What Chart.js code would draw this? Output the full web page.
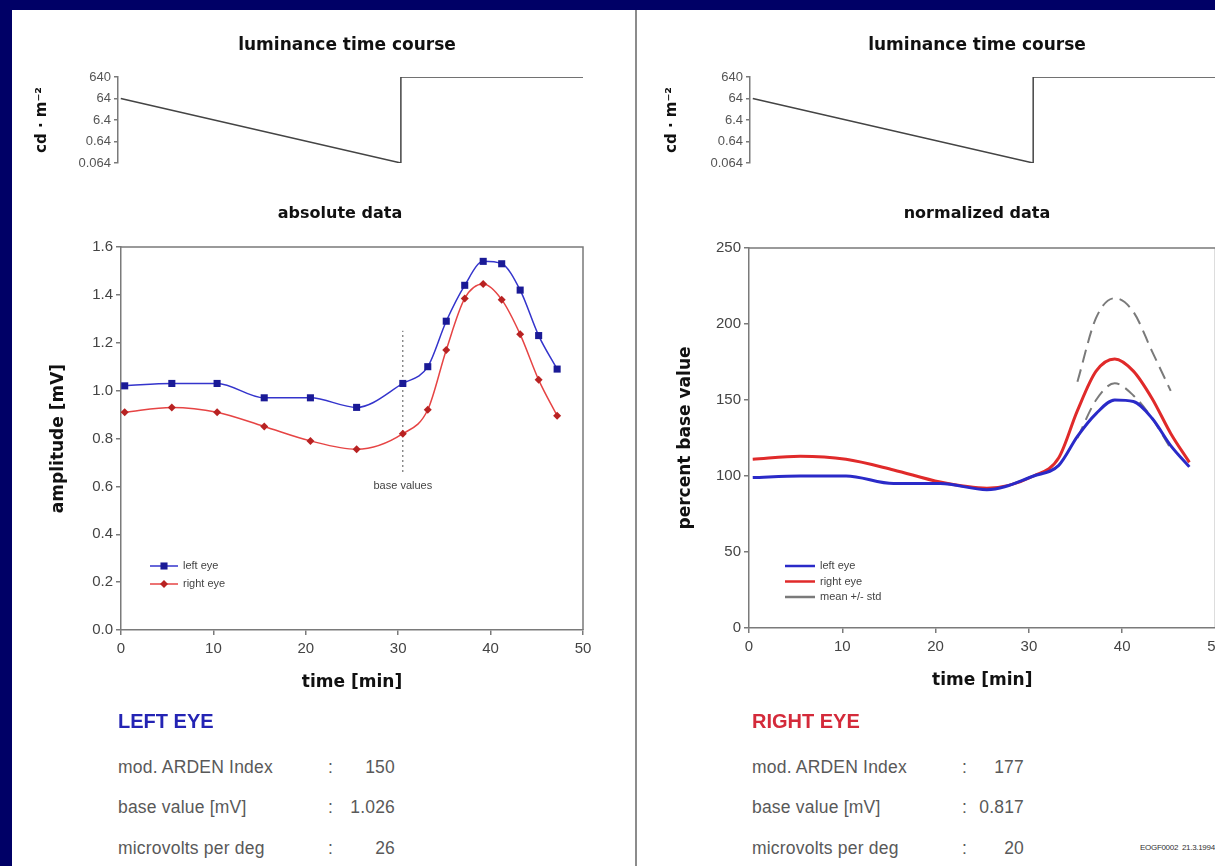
<!DOCTYPE html>
<html>
<head>
<meta charset="utf-8">
<title>EOG light rise</title>
<script src="https://cdn.jsdelivr.net/npm/chart.js@4.4.1/dist/chart.umd.min.js"></script>
<style>
  html, body { margin:0; padding:0; width:1215px; height:866px; overflow:hidden; background:#000066; }
  #sheet { position:absolute; left:12px; top:10px; width:1203px; height:856px; background:#fff; }
  #divider { position:absolute; left:635px; top:10px; width:2px; height:856px; background:#8c8c8c; z-index:3; }
  .wrap { position:absolute; }
  .wrap canvas { display:block; }
  .eye { position:absolute; top:700px; font-family:"Liberation Sans", Arial, sans-serif; color:#595959; font-size:17.5px; letter-spacing:0.2px; }
  .eye .head { position:absolute; left:0; top:9px; line-height:24px; font-weight:bold; font-size:20px; letter-spacing:0; white-space:nowrap; }
  .eye .row { position:absolute; left:0; height:20px; line-height:20px; width:300px; white-space:nowrap; }
  .eye .row .c { position:absolute; left:210px; }
  .eye .row .v { position:absolute; left:200px; text-align:right; }
  #stamp { position:absolute; left:1140px; top:843px; font:8px "Liberation Sans", Arial, sans-serif; letter-spacing:-0.3px; color:#333; white-space:nowrap; z-index:4; }
</style>
</head>
<body>
<div id="sheet"></div>
<div class="wrap" style="left:12px;top:10px"><canvas id="lumLeft" width="670" height="175"></canvas></div>
<div class="wrap" style="left:637px;top:10px"><canvas id="lumRight" width="680" height="175"></canvas></div>
<div class="wrap" style="left:12px;top:190px"><canvas id="absChart" width="656" height="520"></canvas></div>
<div class="wrap" style="left:637px;top:190px"><canvas id="normChart" width="680" height="520"></canvas></div>
<div id="divider"></div>

<div class="eye" style="left:118px">
  <div class="head" style="color:#2424b4">LEFT EYE</div>
  <div class="row" style="top:57px"><span>mod. ARDEN Index</span><span class="c">:</span><span class="v" style="width:77px">150</span></div>
  <div class="row" style="top:97px"><span>base value [mV]</span><span class="c">:</span><span class="v" style="width:77px">1.026</span></div>
  <div class="row" style="top:138px"><span>microvolts per deg</span><span class="c">:</span><span class="v" style="width:77px">26</span></div>
</div>
<div class="eye" style="left:752px">
  <div class="head" style="color:#d42a3a">RIGHT EYE</div>
  <div class="row" style="top:57px"><span>mod. ARDEN Index</span><span class="c">:</span><span class="v" style="width:72px">177</span></div>
  <div class="row" style="top:97px"><span>base value [mV]</span><span class="c">:</span><span class="v" style="width:72px">0.817</span></div>
  <div class="row" style="top:138px"><span>microvolts per deg</span><span class="c">:</span><span class="v" style="width:72px">20</span></div>
</div>
<div id="stamp">EOGF0002&nbsp;&nbsp;21.3.1994</div>

<script>
// recording times (min)
const times = [0.4, 5.5, 10.4, 15.5, 20.5, 25.5, 30.5, 33.2, 35.2, 37.2, 39.2, 41.2, 43.2, 45.2, 47.2];
// absolute amplitudes (mV)
const leftEyeMv = [1.02, 1.03, 1.03, 0.97, 0.97, 0.93, 1.03, 1.10, 1.29, 1.44, 1.54, 1.53, 1.42, 1.23, 1.09];
const rightEyeMv = [0.91, 0.93, 0.91, 0.85, 0.79, 0.755, 0.82, 0.92, 1.17, 1.385, 1.445, 1.38, 1.235, 1.045, 0.895];
// normalized (% of base value)
const leftEyePct = [99, 100, 100, 95, 95, 91, 100, 107, 126, 141, 150, 149, 138, 120, 106];
const rightEyePct = [111, 113, 111, 104, 96, 92, 100, 112, 143, 169, 177, 169, 151, 128, 109];
// normal range
const stdTimes = [35.2, 37.2, 39.2, 41.2, 43.2, 45.2];
const meanPlusStd = [162, 204, 217, 208, 182, 156];
const meanMinusStd = [125, 150, 161, 153, 138, 118];
// luminance protocol (cd/m2)
const lumTimes = [0, 30.3, 30.3, 50];
const lumValues = [64, 0.064, 640, 640];
const lumTicks = [0.064, 0.64, 6.4, 64, 640];
// base value marker
const baseTime = 30.5;
const baseSpan = [0.66, 1.25];
const baseLabelAt = 0.6;

const pts = (xs, ys) => xs.map((x, i) => ({ x: x, y: ys[i] }));

const AXIS = '#7a7a7a';
const SANS = '"Liberation Sans", Arial, sans-serif';
const BOLD_FAMILY = '"DejaVu Sans", Verdana, sans-serif';
const AXIS_TITLE = { family: BOLD_FAMILY, size: 17, weight: 'bold' };

// top + right border of the plot box
const framePlugin = {
  id: 'frame',
  afterDraw(chart, args, opts) {
    if (!opts.show) return;
    const a = chart.chartArea, ctx = chart.ctx;
    ctx.save();
    ctx.strokeStyle = AXIS;
    ctx.lineWidth = 1.5;
    ctx.beginPath();
    ctx.moveTo(a.left, a.top);
    ctx.lineTo(a.right, a.top);
    ctx.lineTo(a.right, a.bottom);
    ctx.stroke();
    ctx.restore();
  }
};

// small legend in the lower left corner of the plot
const cornerLegend = {
  id: 'cornerLegend',
  afterDatasetsDraw(chart, args, opts) {
    if (!opts.rowH) return;
    const a = chart.chartArea, ctx = chart.ctx;
    const items = chart.data.datasets.filter(d => d.legendText);
    ctx.save();
    items.forEach((d, i) => {
      const y = a.bottom - opts.fromBottom + i * opts.rowH;
      const x0 = a.left + opts.fromLeft, x1 = x0 + opts.lineLen, xm = (x0 + x1) / 2;
      ctx.setLineDash([]);
      ctx.strokeStyle = d.borderColor;
      ctx.lineWidth = opts.lineWidth || d.borderWidth;
      ctx.beginPath(); ctx.moveTo(x0, y); ctx.lineTo(x1, y); ctx.stroke();
      if (d.pointRadius > 0) {
        const r = d.pointRadius;
        ctx.fillStyle = d.pointBackgroundColor;
        ctx.beginPath();
        if (d.pointStyle === 'rect') {
          const s = r * Math.SQRT1_2;
          ctx.rect(xm - s, y - s, 2 * s, 2 * s);
        } else {
          ctx.moveTo(xm, y - r); ctx.lineTo(xm + r, y); ctx.lineTo(xm, y + r); ctx.lineTo(xm - r, y); ctx.closePath();
        }
        ctx.fill();
      }
      ctx.fillStyle = '#444';
      ctx.font = '11px ' + SANS;
      ctx.textBaseline = 'middle';
      ctx.textAlign = 'left';
      ctx.fillText(d.legendText, x1 + 5, y);
    });
    ctx.restore();
  }
};

// "base values" caption under the dotted marker
const baseLabel = {
  id: 'baseLabel',
  afterDatasetsDraw(chart, args, opts) {
    if (!opts.text) return;
    const ctx = chart.ctx;
    ctx.save();
    ctx.fillStyle = '#444';
    ctx.font = '11px ' + SANS;
    ctx.textAlign = 'center';
    ctx.textBaseline = 'middle';
    ctx.fillText(opts.text, chart.scales.x.getPixelForValue(opts.x), chart.scales.y.getPixelForValue(opts.y));
    ctx.restore();
  }
};

// empty axis on the right, only reserves room so the title stays centred on the canvas
function spacer(width) {
  return {
    type: 'linear', position: 'right', display: true,
    grid: { display: false }, border: { display: false }, ticks: { display: false },
    afterFit: s => { s.width = width; }
  };
}

function timeAxis() {
  return {
    type: 'linear', min: 0, max: 50,
    grid: { display: true, drawOnChartArea: false, color: AXIS, lineWidth: 1.5, tickLength: 5 },
    border: { display: true, color: AXIS, width: 1.5 },
    ticks: { stepSize: 10, color: '#444', font: { family: SANS, size: 15 }, padding: 5, maxRotation: 0 },
    title: { display: true, text: 'time [min]', color: '#111', font: AXIS_TITLE, padding: { top: 0, bottom: 12 } },
    afterFit: s => { s.height = 75; }
  };
}

function valueAxis(min, max, step, digits, width, label, titlePad) {
  return {
    type: 'linear', min: min, max: max,
    grid: { display: true, drawOnChartArea: false, color: AXIS, lineWidth: 1.5, tickLength: 5 },
    border: { display: true, color: AXIS, width: 1.5 },
    ticks: { stepSize: step, color: '#444', font: { family: SANS, size: 15 }, padding: 3,
             callback: v => v.toFixed(digits) },
    title: { display: true, text: label, color: '#111', font: AXIS_TITLE, padding: { top: titlePad, bottom: 0 } },
    afterFit: s => { s.width = width; }
  };
}

function lumChart(id, axisWidth, rightWidth, titlePad) {
  return new Chart(document.getElementById(id), {
    type: 'line',
    data: {
      datasets: [{
        data: pts(lumTimes, lumValues),
        borderColor: '#444', borderWidth: 1.5, pointRadius: 0, tension: 0
      }]
    },
    options: {
      responsive: false, animation: false, devicePixelRatio: 1,
      layout: { padding: { left: 0, right: 0, top: 0, bottom: 22 } },
      plugins: {
        legend: { display: false }, tooltip: { enabled: false },
        title: { display: true, text: 'luminance time course', color: '#111',
                 font: { family: BOLD_FAMILY, size: 17, weight: 'bold' },
                 padding: { top: 25, bottom: 21.6 } }
      },
      scales: {
        x: { type: 'linear', min: -0.3, max: 50, display: false },
        y: {
          type: 'logarithmic', min: 0.064, max: 640,
          afterBuildTicks: s => { s.ticks = lumTicks.map(v => ({ value: v })); },
          grid: { display: true, drawOnChartArea: false, color: AXIS, lineWidth: 1.5, tickLength: 4 },
          border: { display: true, color: AXIS, width: 1.5 },
          ticks: { autoSkip: false, color: '#555', font: { family: SANS, size: 13 }, padding: 3,
                   callback: v => String(v) },
          title: { display: true, text: 'cd · m⁻²', color: '#111', font: { family: BOLD_FAMILY, size: 15, weight: 'bold' },
                   padding: { top: titlePad, bottom: 0 } },
          afterFit: s => { s.width = axisWidth; }
        },
        pad: spacer(rightWidth)
      }
    }
  });
}

lumChart('lumLeft', 106, 99, 21);
lumChart('lumRight', 113, 101.5, 26);

new Chart(document.getElementById('absChart'), {
  type: 'line',
  data: {
    datasets: [{
      legendText: 'left eye',
      data: pts(times, leftEyeMv),
      borderColor: '#3434cc', borderWidth: 1.5,
      pointStyle: 'rect', pointRadius: 5, pointBackgroundColor: '#1a1a96', pointBorderWidth: 0,
      cubicInterpolationMode: 'monotone'
    }, {
      legendText: 'right eye',
      data: pts(times, rightEyeMv),
      borderColor: '#e64444', borderWidth: 1.5,
      pointStyle: 'rectRot', pointRadius: 4, pointBackgroundColor: '#b82222', pointBorderWidth: 0,
      cubicInterpolationMode: 'monotone'
    }, {
      data: pts([baseTime, baseTime], baseSpan),
      borderColor: '#555', borderWidth: 1, borderDash: [2, 3], pointRadius: 0
    }]
  },
  options: {
    responsive: false, animation: false, devicePixelRatio: 1,
    layout: { padding: { left: 0, right: 0, top: 0, bottom: 5 } },
    plugins: {
      legend: { display: false }, tooltip: { enabled: false },
      title: { display: true, text: 'absolute data', color: '#111',
               font: { family: BOLD_FAMILY, size: 16, weight: 'bold' }, padding: { top: 14.4, bottom: 23.4 } },
      frame: { show: true },
      cornerLegend: { fromLeft: 29, fromBottom: 64, rowH: 18, lineLen: 28 },
      baseLabel: { text: 'base values', x: baseTime, y: baseLabelAt }
    },
    scales: {
      x: timeAxis(),
      y: valueAxis(0, 1.6, 0.2, 1, 109, 'amplitude [mV]', 36),
      pad: spacer(85)
    }
  },
  plugins: [framePlugin, cornerLegend, baseLabel]
});

new Chart(document.getElementById('normChart'), {
  type: 'line',
  data: {
    datasets: [{
      legendText: 'left eye',
      data: pts(times, leftEyePct),
      borderColor: '#2a2ac8', borderWidth: 3, pointRadius: 0,
      cubicInterpolationMode: 'monotone'
    }, {
      legendText: 'right eye',
      data: pts(times, rightEyePct),
      borderColor: '#e02a2a', borderWidth: 3, pointRadius: 0,
      cubicInterpolationMode: 'monotone'
    }, {
      legendText: 'mean +/- std',
      data: pts(stdTimes, meanPlusStd),
      borderColor: '#7a7a7a', borderWidth: 2, borderDash: [13, 7], pointRadius: 0,
      cubicInterpolationMode: 'monotone'
    }, {
      data: pts(stdTimes, meanMinusStd),
      borderColor: '#7a7a7a', borderWidth: 2, borderDash: [13, 7], pointRadius: 0,
      cubicInterpolationMode: 'monotone'
    }]
  },
  options: {
    responsive: false, animation: false, devicePixelRatio: 1,
    layout: { padding: { left: 0, right: 0, top: 0, bottom: 7 } },
    plugins: {
      legend: { display: false }, tooltip: { enabled: false },
      title: { display: true, text: 'normalized data', color: '#111',
               font: { family: BOLD_FAMILY, size: 16, weight: 'bold' }, padding: { top: 14.4, bottom: 24.4 } },
      frame: { show: true },
      cornerLegend: { fromLeft: 36, fromBottom: 62, rowH: 15.5, lineLen: 30, lineWidth: 2.5 }
    },
    scales: {
      x: timeAxis(),
      y: valueAxis(0, 250, 50, 0, 112, 'percent base value', 38),
      pad: spacer(101.5)
    }
  },
  plugins: [framePlugin, cornerLegend]
});
</script>
</body>
</html>
